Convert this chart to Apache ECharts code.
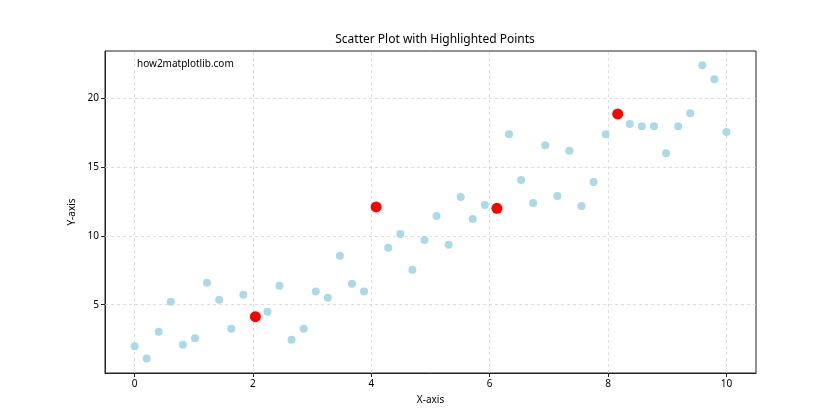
<!DOCTYPE html>
<html>
<head>
<meta charset="utf-8">
<script src="https://cdn.jsdelivr.net/npm/echarts@6/dist/echarts.min.js"></script>
<style>html,body{margin:0;padding:0;background:#fff}#c{width:840px;height:420px}</style>
</head>
<body>
<div id="c"></div>
<script>
// x = 50 evenly spaced values from 0 to 10
const xValues = [0.000,0.204,0.408,0.612,0.816,1.020,1.224,1.429,1.633,1.837,2.041,2.245,2.449,2.653,2.857,3.061,3.265,3.469,3.673,3.878,4.082,4.286,4.490,4.694,4.898,5.102,5.306,5.510,5.714,5.918,6.122,6.327,6.531,6.735,6.939,7.143,7.347,7.551,7.755,7.959,8.163,8.367,8.571,8.776,8.980,9.184,9.388,9.592,9.796,10.000];
const yValues = [1.98,1.09,3.04,5.22,2.10,2.56,6.59,5.36,3.26,5.72,4.13,4.49,6.38,2.46,3.26,5.96,5.51,8.55,6.52,5.96,12.10,9.13,10.14,7.54,9.71,11.45,9.35,12.83,11.23,12.25,12.00,17.39,14.06,12.39,16.59,12.90,16.18,12.17,13.91,17.39,18.86,18.12,17.97,17.97,16.01,17.97,18.91,22.39,21.38,17.54];
const highlightIdx = [10,20,30,40];
const xTicks = [0,2,4,6,8,10];
const yTicks = [5,10,15,20];

const font = 'Noto Sans, DejaVu Sans, sans-serif';
const allPts = xValues.map((x,i)=>[x,yValues[i]]);
const hiPts = highlightIdx.map(i=>[xValues[i],yValues[i]]);
const gridLineStyle = {color:'#d6d6d6', type:[3,3], width:0.8};

const chart = echarts.init(document.getElementById('c'), null, {renderer:'canvas'});
chart.setOption({
  animation:false,
  backgroundColor:'#fff',
  title:[
    {text:'Scatter Plot with Highlighted Points', left:430, top:29, textAlign:'center',
     textStyle:{fontFamily:font, fontSize:12, fontWeight:'normal', color:'#000'}},
    {text:'how2matplotlib.com', left:132, top:54,
     textStyle:{fontFamily:font, fontSize:10, fontWeight:'normal', color:'#000'}}
  ],
  grid:{left:105, right:84, top:51, bottom:47, show:true, borderColor:'#222', borderWidth:1, backgroundColor:'transparent'},
  xAxis:{type:'value', min:-0.5, max:10.5, name:'X-axis', nameLocation:'middle', nameGap:22,
    nameTextStyle:{fontFamily:font, fontSize:10, color:'#000'},
    axisLine:{show:true, onZero:false, lineStyle:{color:'#222'}},
    axisTick:{show:true, length:4, customValues:xTicks, lineStyle:{color:'#222'}},
    axisLabel:{customValues:xTicks, fontFamily:font, fontSize:10, color:'#000', margin:6},
    splitLine:{show:false}},
  yAxis:{type:'value', min:0.04, max:23.43, name:'Y-axis', nameLocation:'middle', nameGap:23,
    nameTextStyle:{fontFamily:font, fontSize:10, color:'#000'},
    axisLine:{show:true, onZero:false, lineStyle:{color:'#222'}},
    axisTick:{show:true, length:4, customValues:yTicks, lineStyle:{color:'#222'}},
    axisLabel:{customValues:yTicks, fontFamily:font, fontSize:10, color:'#000', margin:6},
    splitLine:{show:false}},
  series:[
    {type:'scatter', data:allPts, symbolSize:8, itemStyle:{color:'#ADD8E6', opacity:1}, z:3,
     markLine:{silent:true, symbol:'none', label:{show:false}, lineStyle:gridLineStyle, z:1,
       data: xTicks.map(v=>({xAxis:v})).concat(yTicks.map(v=>({yAxis:v})))}},
    {type:'scatter', data:hiPts, symbolSize:11, itemStyle:{color:'#FF0000', opacity:1}, z:4}
  ]
});
</script>
</body>
</html>
